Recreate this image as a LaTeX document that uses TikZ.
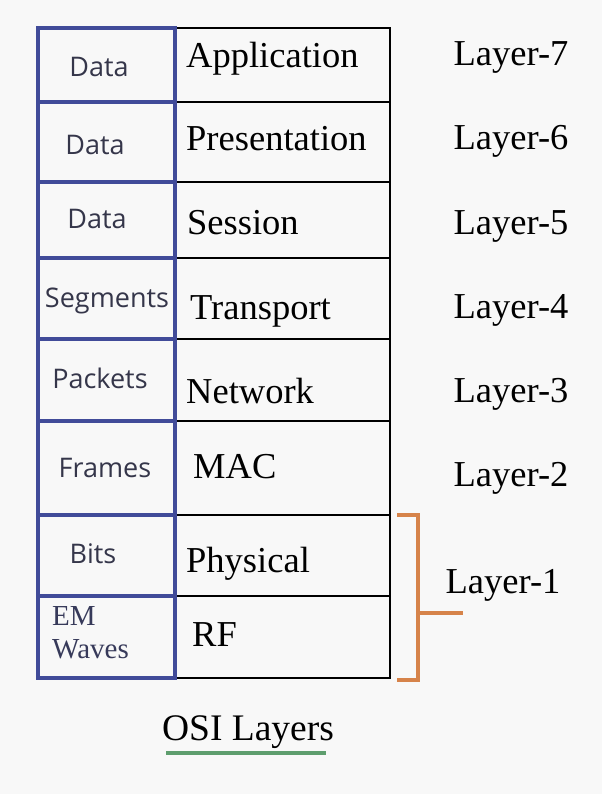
\documentclass[tikz,border=0pt]{standalone}
\usepackage{fontspec}
\setmainfont{Liberation Serif}
\newfontfamily\sansf{Open Sans}
\definecolor{boxblue}{HTML}{414B99}
\definecolor{sanstext}{HTML}{35364A}
\definecolor{brorange}{HTML}{D6834A}
\definecolor{ulgreen}{HTML}{5E9E6E}
\definecolor{bg}{HTML}{F8F8F8}
\tikzset{
  bluecell/.style={draw=boxblue, line width=4.2pt, fill=bg, inner sep=0pt},
  blackcell/.style={draw=black, line width=1.8pt, fill=bg, inner sep=0pt},
  pdu/.style={font=\sansf\fontsize{27}{29}\selectfont, text=sanstext, inner sep=0pt},
  lname/.style={font=\fontsize{36.5}{40}\selectfont, anchor=base west, inner sep=0pt},
  lnum/.style={font=\fontsize{36.5}{40}\selectfont, anchor=base, inner sep=0pt},
}
\begin{document}
\begin{tikzpicture}[x=1pt,y=-1pt]
\fill[bg] (0,0) rectangle (602,794);
\useasboundingbox (0,0) rectangle (602,794);
% right (black) cells
\foreach \t/\b/\n in {28/102/1,102/182/2,182/258/3,258/339/4,339/421/5,421/515/6,515/596/7,596/678/8}{
  \node[blackcell, minimum width=215pt, minimum height={(\b-\t)*1pt}] (r\n) at (282.5,{(\t+\b)/2}) {};
}
% left (blue) cells
\foreach \t/\b/\n in {28/102/1,102/182/2,182/258/3,258/339/4,339/421/5,421/515/6,515/596/7,596/678/8}{
  \node[bluecell, minimum width=137pt, minimum height={(\b-\t)*1pt}] (l\n) at (106.5,{(\t+\b)/2}) {};
}
% PDU labels
\node[pdu] (p1) at (99,67) {Data};
\node[pdu] (p2) at (95,145) {Data};
\node[pdu] (p3) at (97,219) {Data};
\node[pdu] (p4) at (107,301) {Segments};
\node[pdu] (p5) at (100,378) {Packets};
\node[pdu] (p6) at (105,468) {Frames};
\node[pdu] (p7) at (93,554) {Bits};
\node[font=\fontsize{29}{33}\selectfont, text=sanstext!80!boxblue, align=left, anchor=north west, inner sep=0pt] (p8) at (52,606) {EM\\Waves};
% layer names
\node[lname] (n1) at (186,68) {Application};
\node[lname] (n2) at (186,151) {Presentation};
\node[lname] (n3) at (187,234) {Session};
\node[lname] (n4) at (190,319) {Transport};
\node[lname] (n5) at (186,403) {Network};
\node[lname] (n6) at (193,478) {MAC};
\node[lname] (n7) at (186,572) {Physical};
\node[lname] (n8) at (192,646) {RF};
% layer numbers
\node[lnum] (k7) at (511,66) {Layer-7};
\node[lnum] (k6) at (511,150) {Layer-6};
\node[lnum] (k5) at (511,234) {Layer-5};
\node[lnum] (k4) at (511,318) {Layer-4};
\node[lnum] (k3) at (511,402) {Layer-3};
\node[lnum] (k2) at (511,486) {Layer-2};
\node[lnum] (k1) at (503,593) {Layer-1};
% bracket
\coordinate (bt) at (397,515);
\coordinate (bb) at (397,680);
\coordinate (bm) at (418,613);
\coordinate (be) at (463,613);
\draw[brorange, line width=4pt] (bt) -- (418,515) -- (418,680) -- (bb);
\draw[brorange, line width=4pt] (bm) -- (be);
% title
\node[font=\fontsize{37.5}{40}\selectfont, anchor=base, inner sep=0pt] (title) at (248,740) {OSI Layers};
\draw[ulgreen, line width=3.5pt] (166,753) -- (326,753);
\end{tikzpicture}
\end{document}
